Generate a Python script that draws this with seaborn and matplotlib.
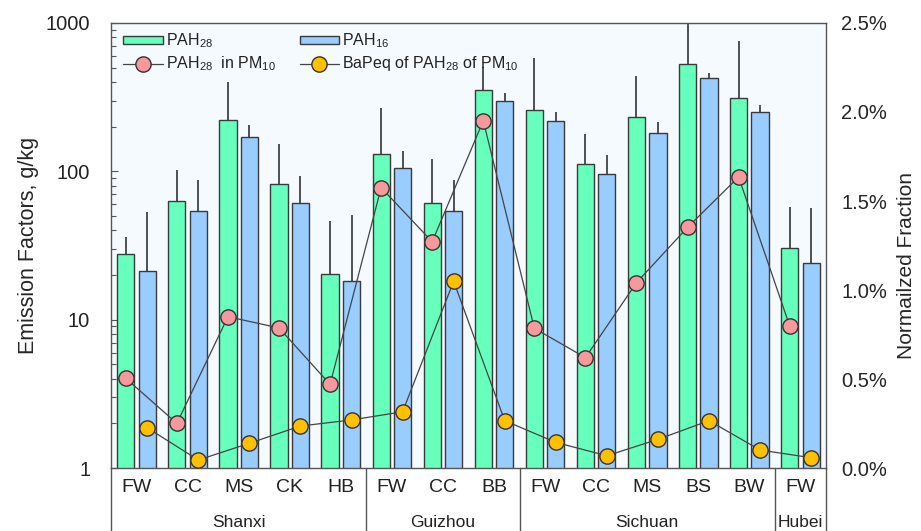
import numpy as np
import pandas as pd
import matplotlib
matplotlib.use("Agg")
import matplotlib.pyplot as plt
import matplotlib.transforms as mtrans
from matplotlib.ticker import FuncFormatter, NullFormatter, PercentFormatter, LogLocator
from matplotlib.lines import Line2D
import seaborn as sns

# source categories and provinces
cats = ["FW", "CC", "MS", "CK", "HB", "FW", "CC", "BB", "FW", "CC", "MS", "BS", "BW", "FW"]
provinces = ["Shanxi"] * 5 + ["Guizhou"] * 3 + ["Sichuan"] * 5 + ["Hubei"]

# emission factors, g/kg (bar tops and upper error ends)
pah28 = [27.6, 63.4, 223, 82.2, 20.4, 130, 61, 356, 259, 112, 233, 532, 311, 30.6]
pah28_hi = [36.3, 102, 403, 152, 46, 266, 122, 508, 579, 179, 440, 1000, 757, 57.8]
pah16 = [21.4, 54.3, 171, 61.5, 18.2, 105, 54.3, 300, 219, 96.6, 182, 426, 250, 24.2]
pah16_hi = [53.5, 87.5, 206, 93.5, 50.6, 138, 87.5, 336, 250, 129, 214, 459, 281, 56.9]

# normalized fractions, %
frac_pah28 = [0.504, 0.251, 0.85, 0.787, 0.47, 1.575, 1.271, 1.951, 0.785, 0.62, 1.041, 1.352, 1.635, 0.798]
frac_bapeq = [0.226, 0.045, 0.139, 0.236, 0.27, 0.316, 1.049, 0.266, 0.144, 0.069, 0.161, 0.266, 0.101, 0.058]

sns.set_style("ticks")
plt.rcParams["font.family"] = ["Liberation Sans", "DejaVu Sans"]
plt.rcParams["mathtext.fontset"] = "custom"
plt.rcParams["mathtext.rm"] = "Liberation Sans"
plt.rcParams["mathtext.it"] = "Liberation Sans:italic"
plt.rcParams["text.color"] = "#222222"

keys = [f"{p}-{c}-{i}" for i, (p, c) in enumerate(zip(provinces, cats))]
df = pd.DataFrame({
    "key": keys * 2,
    "species": ["PAH28"] * len(keys) + ["PAH16"] * len(keys),
    "value": pah28 + pah16,
})

green = "#66FFBB"
blue = "#99CCFF"
edge = "#3a3a3a"

fig = plt.figure(figsize=(9.21, 5.31), dpi=100)
ax = fig.add_axes([0.1205, 0.1186, 0.7763, 0.8381])
ax.set_facecolor("#F5FAFF")

sns.barplot(data=df, x="key", y="value", hue="species", order=keys,
            hue_order=["PAH28", "PAH16"], palette=[green, blue], saturation=1,
            width=0.84, gap=0.2, edgecolor=edge, linewidth=1,
            legend=False, ax=ax, zorder=2)

ax.set_yscale("log")
ax.set_ylim(1, 1000)
ax.set_xlim(-0.5, len(keys) - 0.5)

centers = []
for cont, hi in zip(ax.containers, [pah28_hi, pah16_hi]):
    xs = np.array([p.get_x() + p.get_width() / 2 for p in cont.patches])
    hs = np.array([p.get_height() for p in cont.patches])
    ax.errorbar(xs, hs, yerr=[np.zeros_like(hs), np.array(hi) - hs], fmt="none",
                ecolor="#333333", elinewidth=1.2, capsize=0, zorder=1)
    centers.append(xs)

ax.yaxis.set_major_locator(LogLocator(base=10))
ax.yaxis.set_minor_locator(LogLocator(base=10, subs=np.arange(2, 10)))
ax.yaxis.set_major_formatter(FuncFormatter(lambda v, _: f"{v:g}"))
ax.yaxis.set_minor_formatter(NullFormatter())
ax.tick_params(axis="y", which="major", direction="in", length=5, width=0.8,
               labelsize=14.5, pad=15, colors="#555555", labelcolor="#222222")
ax.tick_params(axis="y", which="minor", direction="in", length=3.5, width=0.8,
               colors="#555555")
ax.set_xticks(range(len(keys)))
ax.set_xticklabels(cats)
ax.tick_params(axis="x", length=0, labelsize=14, pad=8, labelcolor="#222222")
ax.set_xlabel("")
ax.set_ylabel("Emission Factors, g/kg", fontsize=15.5, labelpad=5)
for s in ax.spines.values():
    s.set_color("#555555")
    s.set_linewidth(1)

# group separators and province labels below the axis
trans = mtrans.blended_transform_factory(ax.transData, ax.transAxes)
bounds = [-0.5]
for i in range(1, len(provinces)):
    if provinces[i] != provinces[i - 1]:
        bounds.append(i - 0.5)
bounds.append(len(provinces) - 0.5)
for b in bounds:
    ax.plot([b, b], [0, -0.142], transform=trans, color="#555555", lw=1, clip_on=False)
for a, b in zip(bounds[:-1], bounds[1:]):
    ax.text((a + b) / 2, -0.123, provinces[int(a + 0.5)], transform=trans,
            ha="center", va="center", fontsize=12.5)

ax2 = ax.twinx()
ax2.set_ylim(0, 0.025)
ax2.yaxis.set_major_formatter(PercentFormatter(1, decimals=1))
ax2.set_yticks(np.arange(0, 0.0251, 0.005))
ax2.tick_params(axis="y", length=0, labelsize=14.5, pad=11)
for s in ax2.spines.values():
    s.set_visible(False)
ax2.set_ylabel("Normailzed Fraction", fontsize=15, labelpad=7)
ax2.yaxis.label.set_y(0.456)

ax2.plot(centers[0], np.array(frac_pah28) / 100, color="#444444", lw=0.9,
         marker="o", markersize=11, markerfacecolor="#F7999C",
         markeredgecolor="#333333", markeredgewidth=1, zorder=3)
ax2.plot(centers[1], np.array(frac_bapeq) / 100, color="#444444", lw=0.9,
         marker="o", markersize=11, markerfacecolor="#FFC000",
         markeredgecolor="#333333", markeredgewidth=1, zorder=3)

handles = [
    plt.Rectangle((0, 0), 1, 1, facecolor=green, edgecolor=edge, lw=1),
    Line2D([], [], color="#444444", lw=0.9, marker="o", markersize=11,
           markerfacecolor="#F7999C", markeredgecolor="#333333"),
    plt.Rectangle((0, 0), 1, 1, facecolor=blue, edgecolor=edge, lw=1),
    Line2D([], [], color="#444444", lw=0.9, marker="o", markersize=11,
           markerfacecolor="#FFC000", markeredgecolor="#333333"),
]
labels = [r"PAH$_{28}$", r"PAH$_{28}$  in PM$_{10}$", r"PAH$_{16}$",
          r"BaPeq of PAH$_{28}$ of PM$_{10}$"]
leg = ax2.legend(handles, labels, loc="upper left", bbox_to_anchor=(0.005, 1.0),
                 ncol=2, frameon=False, fontsize=11.5, handlelength=2.5,
                 handleheight=0.4, handletextpad=0.15, labelspacing=0.25,
                 columnspacing=1.5, borderaxespad=0.15)

fig.savefig("out.png", dpi=100, facecolor="white")
